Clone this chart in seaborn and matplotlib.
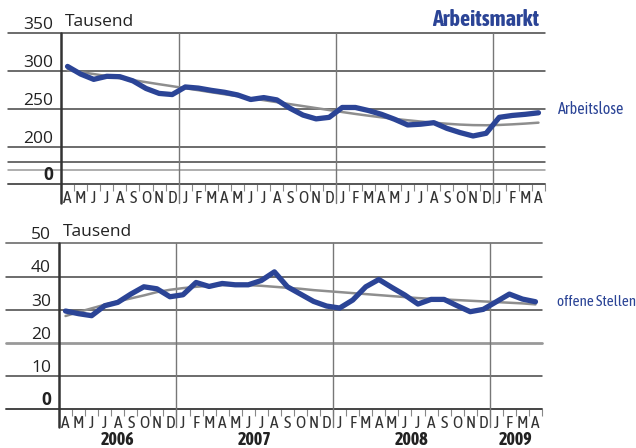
import numpy as np
import pandas as pd
import seaborn as sns
import matplotlib.pyplot as plt
from matplotlib import transforms

# month axis April 2006 .. April 2009
months = ['A', 'M', 'J', 'J', 'A', 'S', 'O', 'N', 'D',
          'J', 'F', 'M', 'A', 'M', 'J', 'J', 'A', 'S', 'O', 'N', 'D',
          'J', 'F', 'M', 'A', 'M', 'J', 'J', 'A', 'S', 'O', 'N', 'D',
          'J', 'F', 'M', 'A']
years = ['2006', '2007', '2008', '2009']
year_start = [0, 9, 21, 33]          # index of first month of each year

# Arbeitslose (Tausend)
arbeitslose = [306, 296, 289, 293, 292.5, 287, 277, 270.5, 269,
               279, 277.5, 274.5, 272, 268.5, 262.5, 265, 262, 251, 242, 237, 239,
               252, 252, 248, 243, 236.5, 229, 230, 232, 224.5, 219, 214.5, 218,
               239, 241.5, 243, 245]
arbeitslose_trend = [301, 298.5, 296, 293.3, 290.6, 288, 285.3, 282.6, 280,
                     277.3, 274.7, 272, 269.4, 266.8, 264.2, 261.6, 259, 256.4, 253.8, 251.2, 248.6,
                     246, 243.5, 241.2, 239, 237, 235.2, 233.5, 232, 230.6, 229.5, 228.8, 228.6,
                     229, 229.8, 230.8, 232]

# offene Stellen (Tausend)
stellen = [29.6, 28.8, 28.2, 31.2, 32.2, 34.7, 36.9, 36.3, 33.9,
           34.5, 38.2, 37.0, 37.9, 37.5, 37.5, 38.8, 41.4, 36.9, 34.7, 32.5, 31.1,
           30.5, 32.9, 36.9, 39.1, 36.7, 34.4, 31.7, 33.1, 33.1, 31.2, 29.4, 30.1,
           32.4, 34.7, 33.2, 32.4]
stellen_trend = [28.1, 29.3, 30.4, 31.5, 32.5, 33.4, 34.3, 35.3, 36.0,
                 36.5, 36.9, 37.2, 37.4, 37.5, 37.4, 37.2, 36.9, 36.6, 36.3, 35.9, 35.6,
                 35.3, 35.0, 34.7, 34.4, 34.1, 33.8, 33.5, 33.3, 33.1, 32.9, 32.7, 32.5,
                 32.3, 32.1, 31.9, 31.6]

BLUE = '#2b4496'
GREY = '#8e8e8e'
DARK = '#444444'
NARROW = ['Asap Condensed', 'Barlow Semi Condensed', 'DejaVu Sans']

sns.set_style('white')
plt.rcParams['font.family'] = ['Open Sans', 'DejaVu Sans']

df = pd.DataFrame({'i': np.arange(len(months)), 'al': arbeitslose, 'alt': arbeitslose_trend,
                   'os': stellen, 'ost': stellen_trend})

fig = plt.figure(figsize=(6.36, 4.48), dpi=100)
W, H = 636, 448


def make_axes(x0, x1, ytop, ybot):
    return fig.add_axes([x0 / W, 1 - ybot / H, (x1 - x0) / W, (ybot - ytop) / H])


def style_axes(ax, ylo, yhi, lines, labels, left_ext, below):
    ax.set_xlim(-0.5, len(months) - 0.5)
    ax.set_ylim(ylo, yhi)
    for s in ax.spines.values():
        s.set_visible(False)
    ytr = ax.get_yaxis_transform()
    for y, c, lw in lines:
        ax.plot([left_ext, 1], [y, y], transform=ytr, color=c, lw=lw, clip_on=False, zorder=1)
    lab_tr = transforms.offset_copy(ytr, fig=fig, x=-8, y=4, units='dots')
    for y, t, bold in labels:
        ax.text(0, y, t, transform=lab_tr, ha='right', va='baseline', fontsize=12.5,
                fontweight='bold' if bold else 'normal', color='#222222')
    xtr = ax.get_xaxis_transform()
    # y axis line
    ax.plot([-0.5, -0.5], [below, 1], transform=xtr, color='#333333', lw=1.8, clip_on=False, zorder=3)
    # year dividers
    for k in year_start[1:]:
        ax.plot([k - 0.5, k - 0.5], [below, 1], transform=xtr, color='#777777', lw=1.0,
                clip_on=False, zorder=1)
    # month ticks
    ax.set_xticks(np.arange(len(months)))
    ax.set_xticklabels(months, fontfamily=NARROW, fontsize=12.5, color='#333333')
    ax.set_xticks(np.arange(len(months) + 1) - 0.5, minor=True)
    ax.tick_params(axis='x', which='major', length=0, pad=4)
    ax.tick_params(axis='x', which='minor', length=5, width=0.8, color='#888888', bottom=True)
    ax.set_yticks([])


# upper panel: Arbeitslose
ax1 = make_axes(61, 545, 33, 184)
style_axes(ax1, 151.3, 350,
           [(350, DARK, 1.1), (300, DARK, 1.1), (250, DARK, 1.1), (200, DARK, 1.1),
            (180, DARK, 1.1), (170, '#999999', 1.1), (151.3, '#555555', 1.4)],
           [(350, '350', False), (300, '300', False), (250, '250', False), (200, '200', False),
            (151.3, '0', True)],
           -0.1095, -0.126)
sns.lineplot(data=df, x='i', y='alt', ax=ax1, color=GREY, lw=1.8, zorder=4)
sns.lineplot(data=df, x='i', y='al', ax=ax1, color=BLUE, lw=3.8, zorder=5,
             solid_capstyle='round')
ax1.set_xlabel('')
ax1.set_ylabel('')

# lower panel: offene Stellen
ax2 = make_axes(59, 542, 243.3, 409.3)
style_axes(ax2, 0, 50,
           [(50, '#777777', 1.3), (40, DARK, 1.1), (30, DARK, 1.1), (20, '#999999', 2.0),
            (10, DARK, 1.1), (0, '#444444', 1.4)],
           [(50, '50', False), (40, '40', False), (30, '30', False), (20, '20', False),
            (10, '10', False), (0, '0', True)],
           -0.11, -0.108)
sns.lineplot(data=df, x='i', y='ost', ax=ax2, color=GREY, lw=1.8, zorder=4)
sns.lineplot(data=df, x='i', y='os', ax=ax2, color=BLUE, lw=3.8, zorder=5,
             solid_capstyle='round')
ax2.set_xlabel('')
ax2.set_ylabel('')

# year labels under the lower panel
for n, (yr, k) in enumerate(zip(years, year_start)):
    end = year_start[n + 1] if n + 1 < len(year_start) else len(months)
    ax2.text((k + end - 1) / 2, -0.185, yr, transform=ax2.get_xaxis_transform(),
             ha='center', va='center', fontsize=13, fontweight='bold',
             fontfamily=NARROW, color='#222222')

# texts
fig.text(539 / W, 1 - 20 / H, 'Arbeitsmarkt', ha='right', va='center', fontsize=16,
         fontweight='bold', color=BLUE, fontfamily=NARROW)
fig.text(65 / W, 1 - 22 / H, 'Tausend', ha='left', va='center', fontsize=12.5, color='#222222')
fig.text(63 / W, 1 - 232.3 / H, 'Tausend', ha='left', va='center', fontsize=12.5, color='#222222')
fig.text(557.5 / W, 1 - 110 / H, 'Arbeitslose', ha='left', va='center', fontsize=11.5,
         color=BLUE, fontfamily=NARROW)
fig.text(557 / W, 1 - 301.7 / H, 'offene Stellen', ha='left', va='center', fontsize=11,
         color=BLUE, fontfamily=NARROW)

fig.savefig('out.png', dpi=100)
